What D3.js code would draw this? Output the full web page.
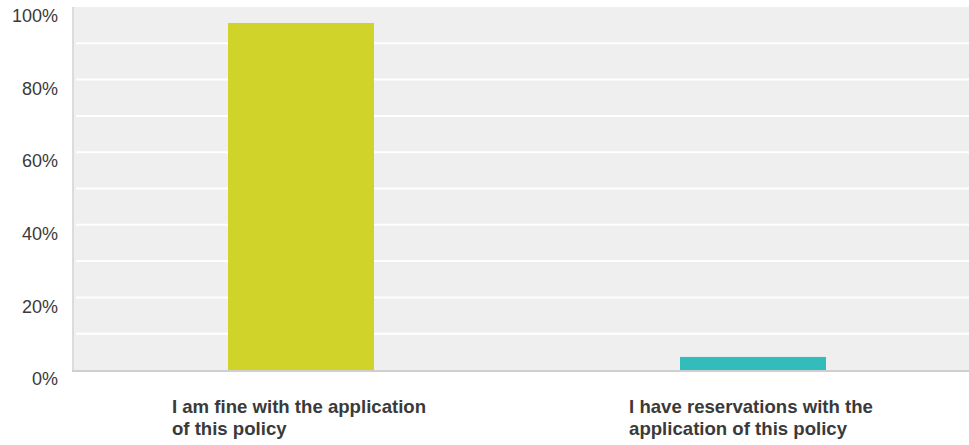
<!DOCTYPE html>
<html><head><meta charset="utf-8">
<script src="https://cdn.jsdelivr.net/npm/d3@7"></script>
<style>
html,body{margin:0;padding:0;background:#fff;}
svg{display:block;}
</style></head>
<body><svg id="chart" width="969" height="445"></svg>
<script>
const categories = ["I am fine with the application of this policy", "I have reservations with the application of this policy"];
const categoryLines = [["I am fine with the application", "of this policy"], ["I have reservations with the", "application of this policy"]];
const values = [95.6, 3.6];
const barColors = ["#d0d42a", "#33bcbc"];
const yTicks = [0, 20, 40, 60, 80, 100];
const yGrid = [10, 20, 30, 40, 50, 60, 70, 80, 90];

const svg = d3.select("#chart");
const plot = {left: 74, right: 969, top: 7, bottom: 370};

const y = d3.scaleLinear().domain([0, 100]).range([plot.bottom, plot.top]);
const x = d3.scaleBand().domain(categories).range([75, 979]).paddingInner(0).paddingOuter(0);
const barW = 146;

// background
svg.append("rect").attr("x", plot.left).attr("y", plot.top)
  .attr("width", plot.right - plot.left).attr("height", plot.bottom - plot.top)
  .attr("fill", "#efefef");

// gridlines
svg.append("g").selectAll("line").data(yGrid).join("line")
  .attr("x1", plot.left + 2).attr("x2", plot.right)
  .attr("y1", d => y(d)).attr("y2", d => y(d))
  .attr("stroke", "#ffffff").attr("stroke-width", 2);

// bars
svg.append("g").selectAll("rect").data(values).join("rect")
  .attr("x", (d, i) => x(categories[i]) + (x.bandwidth() - barW) / 2)
  .attr("width", barW)
  .attr("y", d => y(d))
  .attr("height", d => y(0) - y(d))
  .attr("fill", (d, i) => barColors[i]);

// borders
svg.append("line").attr("x1", 73).attr("x2", 73).attr("y1", plot.top).attr("y2", plot.bottom + 2)
  .attr("stroke", "#dcdcdc").attr("stroke-width", 2);
svg.append("line").attr("x1", 72).attr("x2", plot.right).attr("y1", plot.bottom + 1).attr("y2", plot.bottom + 1)
  .attr("stroke", "#cfcfcf").attr("stroke-width", 2);

// y labels
svg.append("g").selectAll("text").data(yTicks).join("text")
  .attr("x", 58).attr("y", d => y(d) + 10.5)
  .attr("text-anchor", "end").attr("dominant-baseline", "middle")
  .attr("font-family", "Liberation Sans, Arial, Helvetica, sans-serif")
  .attr("font-size", 18).attr("fill", "#3a3a3a")
  .text(d => d + "%");

// x labels
const xl = svg.append("g");
categories.forEach((c, i) => {
  const cx = x(c) + x.bandwidth() / 2 - 2;
  const t = xl.append("text")
    .attr("font-family", "Liberation Sans, Arial, Helvetica, sans-serif")
    .attr("font-size", 18.6).attr("font-weight", "bold").attr("fill", "#3a3a3a");
  const spans = categoryLines[i].map((ln, k) => t.append("tspan").attr("y", 413 + k * 22).text(ln));
  let maxW = 0;
  spans.forEach(s => { maxW = Math.max(maxW, s.node().getComputedTextLength()); });
  spans.forEach(s => s.attr("x", cx - maxW / 2));
});
</script></body></html>
